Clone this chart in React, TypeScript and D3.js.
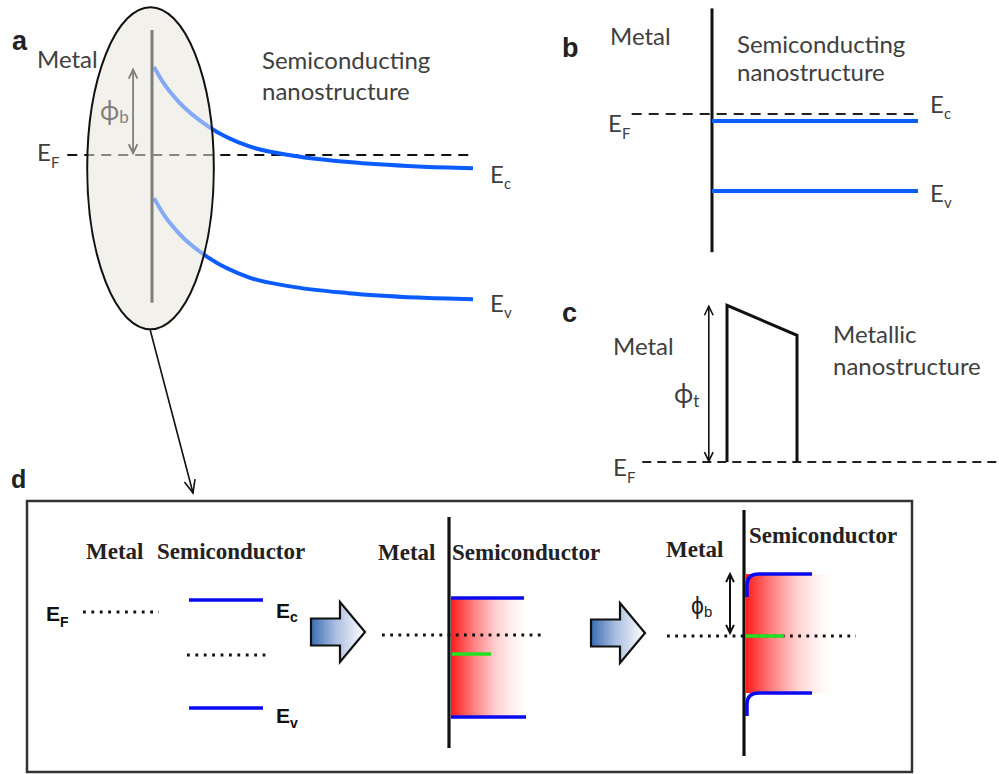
import React from "react";
import * as d3 from "d3";

// ---------- Panel a: band bending at metal / semiconducting nanostructure ----------
// distance from interface (nm) and band energies relative to EF (eV)
const distA = [0, 1, 2.5, 5.5, 9.5, 13.5, 19.5, 26.5, 32];
const ecA = [1.0, 0.81, 0.6, 0.32, 0.1, 0.0, -0.08, -0.13, -0.15];
const evA = [-0.49, -0.68, -0.89, -1.17, -1.39, -1.49, -1.57, -1.62, -1.64];
const phiBA = 0.97;
const metalLineA = [1.42, -1.68];
const efExtentA = [-8.7, 32];
const ellipseA = { x0: -6.7, x1: 6.0, e0: 1.68, e1: -1.98 };

// ---------- Panel b: flat bands ----------
const levelsB = { ef: 0, ec: -0.08, ev: -0.875 };
const interfaceB = [1.2, -1.57];
const efExtentB = [-0.39, 1];

// ---------- Panel c: tunnel barrier ----------
const barrierX = [0, 0, 1, 1];
const barrierE = [0, 1.78, 1.44, 0];
const efExtentC = [-1.21, 3.9];
const phiTC = 1.77;

// ---------- Panel d: three stages ----------
const stage1 = { efMetal: 0, ec: 0.12, efSemi: -0.43, ev: -0.96 };
const stage2 = { ec: 0.37, efSemi: -0.19, ev: -0.82 };
const stage3 = { ecBulk: 0.62, ecSurf: 0.39, evBulk: -0.57, evSurf: -0.8, efSemi: 0 };

const BLUE = "#0b5cff";
const DBLUE = "#0a0af0";
const TXT = "#404040";
const SANS = "Lato, 'Open Sans', sans-serif";
const ARIAL = "'Liberation Sans', Arial, sans-serif";
const TIMES = "'Liberation Serif', 'Times New Roman', serif";
const FS = 24;

function arrowHead(tx: number, ty: number, angle: number, size = 11, spread = 0.42) {
  const a1 = angle + Math.PI - spread;
  const a2 = angle + Math.PI + spread;
  return `M${tx + size * Math.cos(a1)},${ty + size * Math.sin(a1)}L${tx},${ty}L${tx + size * Math.cos(a2)},${ty + size * Math.sin(a2)}`;
}

function DoubleArrow({ x, y1, y2, color, w = 1.6, size = 10 }: any) {
  return (
    <g stroke={color} strokeWidth={w} fill="none">
      <line x1={x} x2={x} y1={y1} y2={y2} />
      <path d={arrowHead(x, y1, -Math.PI / 2, size, 0.45)} />
      <path d={arrowHead(x, y2, Math.PI / 2, size, 0.45)} />
    </g>
  );
}

function Sub({ x, y, main, sub, size, subSize, dy, font, weight, fill, dx = 0 }: any) {
  return (
    <text x={x} y={y} fontFamily={font} fontSize={size} fontWeight={weight} fill={fill}>
      {main}
      <tspan dx={dx} dy={dy} fontSize={subSize}>{sub}</tspan>
    </text>
  );
}

function BlockArrow({ x, cy }: any) {
  const bw = 29, bh = 13.5, hh = 30, hl = 25;
  const pts = [
    [x, cy - bh], [x + bw, cy - bh], [x + bw, cy - hh], [x + bw + hl, cy],
    [x + bw, cy + hh], [x + bw, cy + bh], [x, cy + bh],
  ];
  return <polygon points={pts.map((p) => p.join(",")).join(" ")} fill="url(#arrowGrad)" stroke="#111" strokeWidth={2.2} strokeLinejoin="miter" />;
}

export default function App() {
  const xA = d3.scaleLinear().domain([0, 32]).range([154, 473]);
  const yA = d3.scaleLinear().domain([0, 1]).range([155, 67]);
  const lineA = (vals: number[]) =>
    d3.line<number>().x((_, i) => xA(distA[i])).y((d) => yA(d)).curve(d3.curveMonotoneX)(vals) as string;
  const ecx = (xA(ellipseA.x0) + xA(ellipseA.x1)) / 2;
  const ecy = (yA(ellipseA.e0) + yA(ellipseA.e1)) / 2;
  const erx = (xA(ellipseA.x1) - xA(ellipseA.x0)) / 2;
  const ery = (yA(ellipseA.e1) - yA(ellipseA.e0)) / 2;

  const xB = d3.scaleLinear().domain([0, 1]).range([712, 918]);
  const yB = d3.scaleLinear().domain([0, 1]).range([114, 26]);

  const xC = d3.scaleLinear().domain([0, 1]).range([727, 797]);
  const yC = d3.scaleLinear().domain([0, 1]).range([462, 374]);
  const barrierPath = d3.line<number>().x((_, i) => xC(barrierX[i])).y((d) => yC(d))(barrierE) as string;

  const y1 = d3.scaleLinear().domain([0, 1]).range([612, 512]);
  const y2 = d3.scaleLinear().domain([0, 1]).range([635, 535]);
  const y3 = d3.scaleLinear().domain([0, 1]).range([636, 536]);

  const bentBand = (x0: number, x1: number, ySurf: number, yBulk: number) => {
    const p = d3.path();
    const dir = yBulk < ySurf ? -1 : 1;
    p.moveTo(x0, ySurf);
    p.lineTo(x0, yBulk - dir * 11);
    p.quadraticCurveTo(x0, yBulk, x0 + 12, yBulk);
    p.lineTo(x1, yBulk);
    return p.toString();
  };

  return (
    <svg width={999} height={774} style={{ position: "absolute", left: 0, top: 0, background: "#fff" }}>
      <defs>
        <linearGradient id="arrowGrad" x1="0" x2="1" y1="0" y2="0">
          <stop offset="0" stopColor="#3b6cb4" />
          <stop offset="0.45" stopColor="#a9bedf" />
          <stop offset="1" stopColor="#ffffff" />
        </linearGradient>
        <linearGradient id="redGrad" x1="0" x2="1" y1="0" y2="0">
          <stop offset="0" stopColor="#ff1c1c" />
          <stop offset="0.3" stopColor="#ff8080" />
          <stop offset="0.6" stopColor="#ffd2d2" />
          <stop offset="0.85" stopColor="#fff4f4" />
          <stop offset="1" stopColor="#ffffff" />
        </linearGradient>
      </defs>

      {/* ---------------- Panel a ---------------- */}
      <ellipse cx={ecx} cy={ecy} rx={erx} ry={ery} fill="#f3f1ec" />
      <line x1={xA(efExtentA[0])} x2={xA(efExtentA[1])} y1={yA(0)} y2={yA(0)} stroke="#111" strokeWidth={2.2} strokeDasharray="10 7" />
      <path d={lineA(ecA)} fill="none" stroke={BLUE} strokeWidth={4} />
      <path d={lineA(evA)} fill="none" stroke={BLUE} strokeWidth={4} />
      <line x1={xA(-0.2)} x2={xA(-0.2)} y1={yA(metalLineA[0])} y2={yA(metalLineA[1])} stroke="#000" strokeWidth={3} />
      <DoubleArrow x={xA(-2.1)} y1={yA(phiBA)} y2={yA(0.02)} color="#000" w={1.8} />
      <Sub x={100} y={120} main="ϕ" sub="b" size={26} subSize={17} dy={3} font={SANS} fill="#000" />
      <ellipse cx={ecx} cy={ecy} rx={erx} ry={ery} fill="#f3f1ec" fillOpacity={0.52} stroke="#111" strokeWidth={2} />
      <text x={12} y={50} fontFamily={ARIAL} fontWeight="bold" fontSize={27} fill="#222">a</text>
      <text x={37} y={68} fontFamily={SANS} fontSize={FS} fill={TXT}>Metal</text>
      <text x={262} y={69} fontFamily={SANS} fontSize={FS} fill={TXT}>Semiconducting</text>
      <text x={262} y={100} fontFamily={SANS} fontSize={FS} fill={TXT}>nanostructure</text>
      <Sub x={37} y={161} main="E" sub="F" size={FS} subSize={15} dy={7} font={SANS} fill={TXT} />
      <Sub x={490} y={183} main="E" sub="c" size={FS} subSize={15} dy={6} font={SANS} fill={TXT} />
      <Sub x={490} y={312} main="E" sub="v" size={FS} subSize={15} dy={6} font={SANS} fill={TXT} />

      <g stroke="#111" strokeWidth={1.6} fill="none">
        <line x1={150} y1={ecy + ery} x2={193} y2={493} />
        <path d={arrowHead(193, 493, Math.atan2(493 - (ecy + ery), 193 - 150), 14, 0.4)} />
      </g>

      {/* ---------------- Panel b ---------------- */}
      <line x1={xB(0)} x2={xB(0)} y1={yB(interfaceB[0])} y2={yB(interfaceB[1])} stroke="#111" strokeWidth={3} />
      <line x1={xB(efExtentB[0])} x2={xB(efExtentB[1])} y1={yB(levelsB.ef)} y2={yB(levelsB.ef)} stroke="#222" strokeWidth={2.2} strokeDasharray="10 7" />
      <line x1={xB(0)} x2={xB(1)} y1={yB(levelsB.ec)} y2={yB(levelsB.ec)} stroke={BLUE} strokeWidth={4} />
      <line x1={xB(0)} x2={xB(1)} y1={yB(levelsB.ev)} y2={yB(levelsB.ev)} stroke={BLUE} strokeWidth={4} />
      <text x={562} y={57} fontFamily={ARIAL} fontWeight="bold" fontSize={27} fill="#222">b</text>
      <text x={610} y={45} fontFamily={SANS} fontSize={FS} fill={TXT}>Metal</text>
      <text x={737} y={53} fontFamily={SANS} fontSize={FS} fill={TXT}>Semiconducting</text>
      <text x={737} y={81} fontFamily={SANS} fontSize={FS} fill={TXT}>nanostructure</text>
      <Sub x={608} y={132} main="E" sub="F" size={FS} subSize={15} dy={7} font={SANS} fill={TXT} />
      <Sub x={930} y={113} main="E" sub="c" size={FS} subSize={15} dy={6} font={SANS} fill={TXT} />
      <Sub x={930} y={202} main="E" sub="v" size={FS} subSize={15} dy={6} font={SANS} fill={TXT} />

      {/* ---------------- Panel c ---------------- */}
      <line x1={xC(efExtentC[0])} x2={xC(efExtentC[1])} y1={yC(0)} y2={yC(0)} stroke="#222" strokeWidth={2.2} strokeDasharray="9 6" />
      <path d={barrierPath} fill="none" stroke="#111" strokeWidth={3} strokeLinejoin="miter" />
      <DoubleArrow x={xC(-0.26)} y1={yC(phiTC)} y2={yC(0.01)} color="#111" w={1.6} />
      <text x={562} y={322} fontFamily={ARIAL} fontWeight="bold" fontSize={27} fill="#222">c</text>
      <text x={613} y={355} fontFamily={SANS} fontSize={FS} fill={TXT}>Metal</text>
      <text x={833} y={343} fontFamily={SANS} fontSize={FS} fill={TXT}>Metallic</text>
      <text x={833} y={375} fontFamily={SANS} fontSize={FS} fill={TXT}>nanostructure</text>
      <Sub x={674} y={403} main="ϕ" sub="t" size={26} subSize={17} dy={4} font={SANS} fill={TXT} />
      <Sub x={613} y={476} main="E" sub="F" size={FS} subSize={15} dy={7} font={SANS} fill={TXT} />

      {/* ---------------- Panel d ---------------- */}
      <text x={11} y={488} fontFamily={ARIAL} fontWeight="bold" fontSize={25} fill="#222">d</text>
      <rect x={27} y={501} width={885} height={271} fill="#fff" stroke="#333" strokeWidth={2.5} />

      {/* stage 1 */}
      <text x={86} y={559} fontFamily={TIMES} fontWeight="bold" fontSize={23} fill="#222">Metal</text>
      <text x={157} y={559} fontFamily={TIMES} fontWeight="bold" fontSize={23} fill="#222">Semiconductor</text>
      <Sub x={46} y={621} main="E" sub="F" size={21} subSize={14} dy={6} font={ARIAL} weight="bold" fill="#111" />
      <line x1={83} x2={159} y1={y1(stage1.efMetal)} y2={y1(stage1.efMetal)} stroke="#111" strokeWidth={2.8} strokeDasharray="2.8 5.6" />
      <line x1={189} x2={263} y1={y1(stage1.ec)} y2={y1(stage1.ec)} stroke={DBLUE} strokeWidth={3.5} />
      <line x1={187} x2={266} y1={y1(stage1.efSemi)} y2={y1(stage1.efSemi)} stroke="#111" strokeWidth={2.8} strokeDasharray="2.8 5.6" />
      <line x1={189} x2={263} y1={y1(stage1.ev)} y2={y1(stage1.ev)} stroke={DBLUE} strokeWidth={3.5} />
      <Sub x={276} y={618} main="E" sub="c" size={21} subSize={14} dy={4} font={ARIAL} weight="bold" fill="#111" />
      <Sub x={276} y={723} main="E" sub="v" size={21} subSize={14} dy={5} font={ARIAL} weight="bold" fill="#111" />

      <BlockArrow x={311} cy={632} />

      {/* stage 2 */}
      <rect x={451} y={y2(stage2.ec)} width={76} height={y2(stage2.ev) - y2(stage2.ec)} fill="url(#redGrad)" />
      <line x1={382} x2={543} y1={y2(0)} y2={y2(0)} stroke="#111" strokeWidth={2.8} strokeDasharray="2.8 5.4" />
      <line x1={451} x2={524} y1={y2(stage2.ec)} y2={y2(stage2.ec)} stroke={DBLUE} strokeWidth={3.5} />
      <line x1={451} x2={526} y1={y2(stage2.ev)} y2={y2(stage2.ev)} stroke={DBLUE} strokeWidth={3.5} />
      <line x1={452} x2={491} y1={y2(stage2.efSemi)} y2={y2(stage2.efSemi)} stroke="#22e022" strokeWidth={3.5} />
      <line x1={449} x2={449} y1={517} y2={748} stroke="#111" strokeWidth={3.2} />
      <text x={378} y={560} fontFamily={TIMES} fontWeight="bold" fontSize={23} fill="#222">Metal</text>
      <text x={452} y={560} fontFamily={TIMES} fontWeight="bold" fontSize={23} fill="#222">Semiconductor</text>

      <BlockArrow x={591} cy={633} />

      {/* stage 3 */}
      <rect x={746} y={y3(stage3.ecBulk)} width={86} height={y3(stage3.evBulk) - y3(stage3.ecBulk)} fill="url(#redGrad)" />
      <line x1={667} x2={856} y1={y3(0)} y2={y3(0)} stroke="#111" strokeWidth={2.8} strokeDasharray="2.8 5.4" />
      <path d={bentBand(747, 812, y3(stage3.ecSurf), y3(stage3.ecBulk))} fill="none" stroke={DBLUE} strokeWidth={3.5} />
      <path d={bentBand(747, 812, y3(stage3.evSurf), y3(stage3.evBulk))} fill="none" stroke={DBLUE} strokeWidth={3.5} />
      <line x1={746} x2={784} y1={y3(stage3.efSemi)} y2={y3(stage3.efSemi)} stroke="#22e022" strokeWidth={3.5} />
      <line x1={744} x2={744} y1={510} y2={756} stroke="#111" strokeWidth={3.2} />
      <DoubleArrow x={730} y1={y3(stage3.ecBulk)} y2={y3(0.03)} color="#111" w={2} size={9} />
      <Sub x={691} y={614} main="ϕ" sub="b" size={23} subSize={15} dy={3} font={ARIAL} fill="#222" />
      <text x={666} y={557} fontFamily={TIMES} fontWeight="bold" fontSize={23} fill="#222">Metal</text>
      <text x={749} y={543} fontFamily={TIMES} fontWeight="bold" fontSize={23} fill="#222">Semiconductor</text>
    </svg>
  );
}
